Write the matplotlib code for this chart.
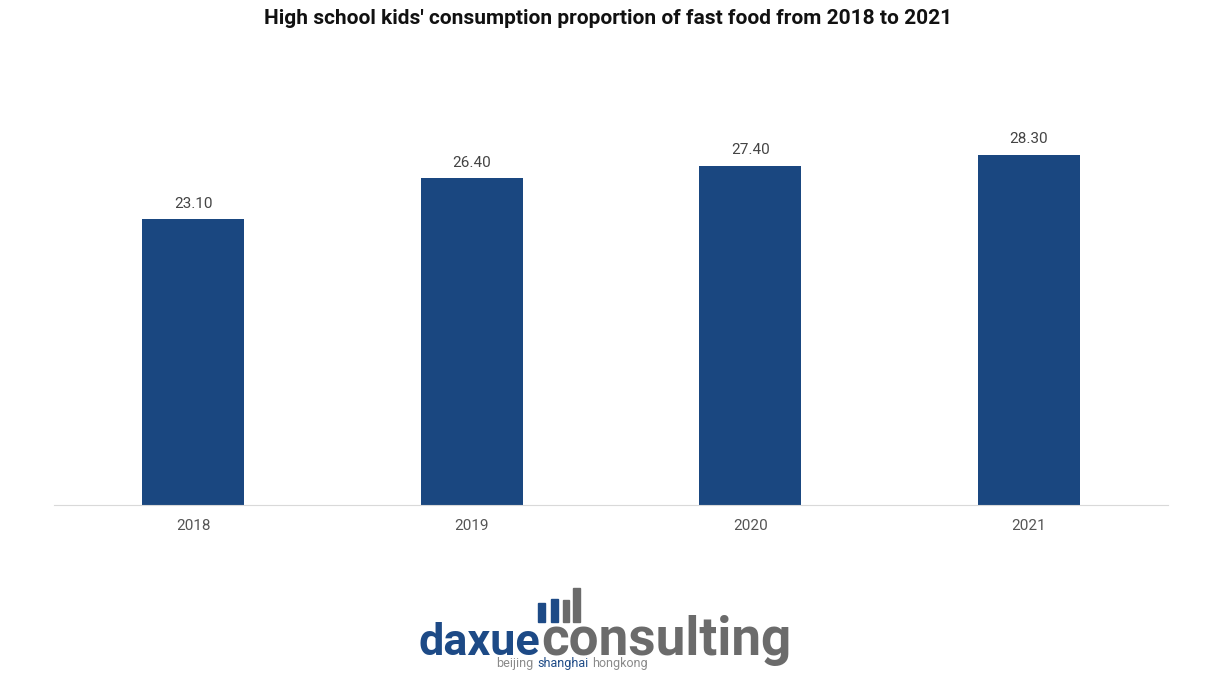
import matplotlib.pyplot as plt
from matplotlib.patches import Rectangle

years = ['2018', '2019', '2020', '2021']
share = [23.10, 26.40, 27.40, 28.30]

plt.rcParams['font.family'] = ['Roboto', 'DejaVu Sans']

W, H = 1217, 686
fig = plt.figure(figsize=(W / 100, H / 100), dpi=100)
ax = fig.add_axes([54 / W, 1 - 505 / H, 1114 / W, 405 / H])

bars = ax.bar(range(len(years)), share, width=0.366, color='#1a4780')
for b, v in zip(bars, share):
    ax.annotate(f'{v:.2f}', (b.get_x() + b.get_width() / 2, v),
                xytext=(0, 6), textcoords='offset points',
                ha='center', va='bottom', fontsize=11, color='#444444')

ax.set_xlim(-0.5, len(years) - 0.5)
ax.set_ylim(0, 405 / 12.38)
ax.set_xticks(range(len(years)))
ax.set_xticklabels(years, fontsize=11, color='#555555')
ax.tick_params(axis='x', length=0, pad=10)
ax.set_yticks([])
for s in ['top', 'right', 'left']:
    ax.spines[s].set_visible(False)
ax.spines['bottom'].set_color('#d9d9d9')

fig.text(0.5, 1 - 18 / H, "High school kids' consumption proportion of fast food from 2018 to 2021",
         ha='center', va='center', fontsize=15, fontweight='bold', color='#111111')

# logo
blue, grey = '#1d4a86', '#6b6b6b'
for x0, x1, top, c in [(538, 545, 603, blue), (551, 558, 599, blue),
                       (563, 569, 600, grey), (573, 580, 588, grey)]:
    fig.patches.append(Rectangle((x0 / W, 1 - 622 / H), (x1 - x0) / W, (622 - top) / H,
                                 transform=fig.transFigure, color=c))

r = fig.canvas.get_renderer()
big = dict(fontsize=34, fontweight='bold', va='baseline', family='Roboto')
t1 = fig.text(418 / W, 1 - 655 / H, 'daxue', color=blue, **big)
w1 = t1.get_window_extent(r).width
scale = 122 / w1
t1.set_fontsize(34 * scale)
t2 = fig.text(541 / W, 1 - 655 / H, 'consulting', color=grey, **big)
t2.set_fontsize(34 * scale)
w2 = t2.get_window_extent(r).width
t2.set_fontsize(34 * scale * 250 / w2)

x = 496
for word, c in [('beijing', '#8a8a8a'), ('shanghai', blue), ('hongkong', '#8a8a8a')]:
    t = fig.text(x / W, 1 - 667 / H, word, fontsize=9, color=c, va='baseline')
    x += t.get_window_extent(r).width + 4

fig.savefig('out.png', dpi=100, facecolor='white')
